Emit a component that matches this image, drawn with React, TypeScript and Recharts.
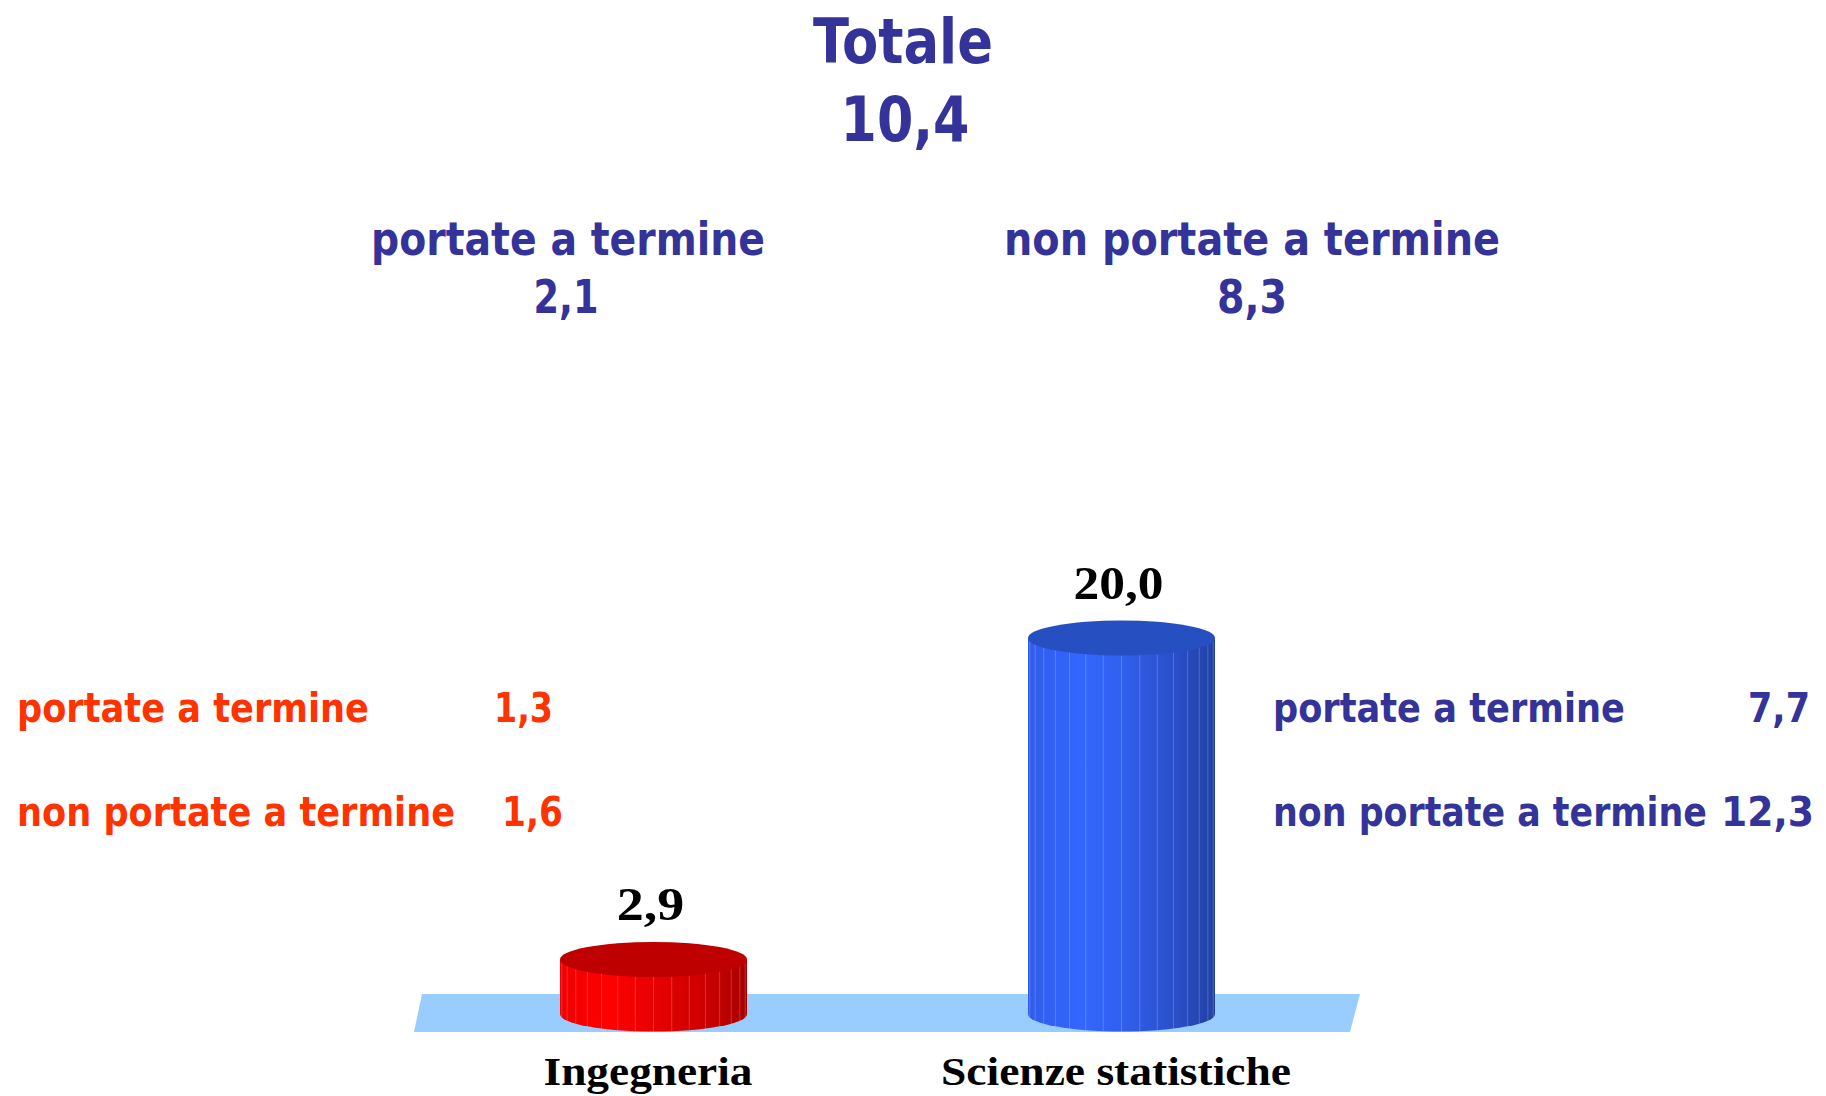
import { BarChart, Bar, XAxis, YAxis, ReferenceArea, LabelList, Customized } from 'recharts';

const categories = ['Ingegneria', 'Scienze statistiche'];
const totals = [2.9, 20.0];
const completed = [1.3, 7.7];
const notCompleted = [1.6, 12.3];

const overallTotal = 10.4;
const overallCompleted = 2.1;
const overallNotCompleted = 8.3;

const labelCompleted = 'portate a termine';
const labelNotCompleted = 'non portate a termine';

const data = categories.map((name, i) => ({
  name,
  total: totals[i],
  completed: completed[i],
  notCompleted: notCompleted[i],
}));

const NAVY = '#333399';
const ORANGE = '#FF3300';
const SANS = "Tahoma, 'DejaVu Sans', Verdana, sans-serif";
const SERIF = "'Liberation Serif', 'Times New Roman', serif";

const palettes = [
  { top: '#BF0000', stops: ['#F20000', '#FF0000', '#E80000', '#CC0000', '#A80000'] },
  { top: '#2650C2', stops: ['#2F5CEB', '#3366FF', '#3060EE', '#2A4FC8', '#2141A4'] },
];

const fmt = (v: number) => v.toFixed(1).replace('.', ',');

// text squeezed/stretched to the width it has in the original slide
function T({ x, y, w, size, color, anchor = 'start', font = SANS, children }: any) {
  return (
    <text
      x={x}
      y={y}
      fill={color}
      fontFamily={font}
      fontWeight="bold"
      fontSize={size}
      textAnchor={anchor}
      textLength={w}
      lengthAdjust="spacingAndGlyphs"
    >
      {children}
    </text>
  );
}

// side notes use a narrower face (Tahoma-like), so squeeze the whole row horizontally
const SQUEEZE = 0.84;

function Row({ y, color, label, labelX, labelW, value, valueX, valueW }: any) {
  const k = 1 / SQUEEZE;
  return (
    <g transform={`scale(${SQUEEZE},1)`}>
      <T x={labelX * k} y={y} w={labelW * k} size={40} color={color}>{label}</T>
      <T x={valueX * k} y={y} w={valueW * k} size={40} color={color} anchor="end">{value}</T>
    </g>
  );
}

function Cylinder(props: any) {
  const { x, y, width, height, index } = props;
  const pal = palettes[index % palettes.length];
  const rx = width / 2;
  const ry = 17.5;
  const cx = x + rx;
  const bottom = y + height;
  const gid = `cyl-side-${index}`;
  const facets = [];
  for (let k = 1; k < 16; k++) {
    const t = (Math.PI * k) / 16;
    const fx = cx - rx * Math.cos(t);
    const dy = ry * Math.sin(t);
    facets.push(
      <line
        key={k}
        x1={fx}
        x2={fx}
        y1={y + dy}
        y2={bottom + dy}
        stroke="#ffffff"
        strokeOpacity={0.2}
        strokeWidth={1}
      />
    );
  }
  return (
    <g>
      <defs>
        <linearGradient id={gid} x1="0" y1="0" x2="1" y2="0">
          <stop offset="0%" stopColor={pal.stops[0]} />
          <stop offset="28%" stopColor={pal.stops[1]} />
          <stop offset="50%" stopColor={pal.stops[2]} />
          <stop offset="78%" stopColor={pal.stops[3]} />
          <stop offset="100%" stopColor={pal.stops[4]} />
        </linearGradient>
      </defs>
      <path
        d={`M${x},${y} L${x},${bottom} A${rx},${ry} 0 0 0 ${x + width},${bottom} L${x + width},${y} Z`}
        fill={`url(#${gid})`}
      />
      {facets}
      <ellipse cx={cx} cy={y} rx={rx} ry={ry} fill={pal.top} />
    </g>
  );
}

function Floor(props: any) {
  const { x, y, width, height } = props;
  return (
    <path
      d={`M${x + 3},${y} L${x + width + 5},${y} L${x + width - 5},${y + height} L${x - 5},${y + height} Z`}
      fill="#99CCFF"
    />
  );
}

function CategoryTick({ x, y, payload }: any) {
  const w = payload.value === categories[0] ? 209 : 350;
  return (
    <T x={x - 5} y={y + 44} w={w} size={41} color="#000" anchor="middle" font={SERIF}>
      {payload.value}
    </T>
  );
}

function ValueLabel({ x, y, width, value }: any) {
  const s = fmt(value);
  return (
    <T x={x + width / 2 - 3} y={y - 39} w={s.length * 22.5} size={46} color="#000" anchor="middle" font={SERIF}>
      {s}
    </T>
  );
}

function Annotations() {
  return (
    <g>
      <T x={903} y={63} w={180} size={62} color={NAVY} anchor="middle">Totale</T>
      <T x={905} y={141} w={129} size={62} color={NAVY} anchor="middle">{fmt(overallTotal)}</T>

      <T x={568} y={255} w={394} size={47} color={NAVY} anchor="middle">{labelCompleted}</T>
      <T x={566} y={313} w={65} size={47} color={NAVY} anchor="middle">{fmt(overallCompleted)}</T>
      <T x={1252} y={255} w={496} size={47} color={NAVY} anchor="middle">{labelNotCompleted}</T>
      <T x={1252} y={313} w={70} size={47} color={NAVY} anchor="middle">{fmt(overallNotCompleted)}</T>

      <Row y={722} color={ORANGE} label={labelCompleted} labelX={17} labelW={352}
        value={fmt(completed[0])} valueX={553} valueW={59} />
      <Row y={826} color={ORANGE} label={labelNotCompleted} labelX={17} labelW={438}
        value={fmt(notCompleted[0])} valueX={563} valueW={61} />

      <Row y={722} color={NAVY} label={labelCompleted} labelX={1273} labelW={352}
        value={fmt(completed[1])} valueX={1810} valueW={62} />
      <Row y={826} color={NAVY} label={labelNotCompleted} labelX={1273} labelW={434}
        value={fmt(notCompleted[1])} valueX={1814} valueW={93} />
    </g>
  );
}

export default function App() {
  return (
    <div style={{ position: 'absolute', left: 0, top: 0, width: 1826, height: 1096, background: '#fff' }}>
      <BarChart
        width={1826}
        height={1096}
        data={data}
        margin={{ top: 600.4, right: 471, bottom: 23.2, left: 419 }}
      >
        <XAxis
          dataKey="name"
          axisLine={false}
          tickLine={false}
          height={40}
          interval={0}
          tick={<CategoryTick />}
        />
        <YAxis hide type="number" domain={[-1, 22]} allowDataOverflow />
        <ReferenceArea y1={-0.96} y2={1.07} shape={<Floor />} ifOverflow="visible" />
        <Bar dataKey="total" barSize={187} shape={<Cylinder />} isAnimationActive={false}>
          <LabelList dataKey="total" content={<ValueLabel />} />
        </Bar>
        <Customized component={Annotations} />
      </BarChart>
    </div>
  );
}
